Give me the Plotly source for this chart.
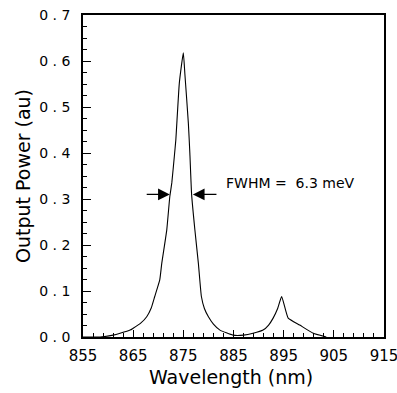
import plotly.graph_objects as go

# Data
wavelength_nm = [855.0, 858.4, 861.0, 862.4, 864.4, 865.0, 866.5, 867.7, 868.6, 869.3, 870.3, 870.7,
                 871.7, 872.3, 872.7, 873.2, 873.5, 874.2, 875.0, 875.3, 876.0, 876.3, 876.65,
                 877.3, 878.0, 878.6, 879.2, 880.0, 881.0, 882.3, 884.9, 887.0, 888.9, 890.9,
                 892.0, 892.9, 893.8, 894.6, 895.9, 898.2, 900.9, 903.5]
output_power = [0.0, 0.0, 0.004, 0.008, 0.015, 0.019, 0.03, 0.044, 0.063, 0.088, 0.124, 0.16,
                0.233, 0.305, 0.335, 0.392, 0.428, 0.552, 0.618, 0.573, 0.465, 0.40, 0.31,
                0.233, 0.16, 0.088, 0.062, 0.044, 0.028, 0.015, 0.004, 0.004, 0.008, 0.015,
                0.026, 0.041, 0.062, 0.088, 0.041, 0.026, 0.008, 0.0]

x_ticks = [855, 865, 875, 885, 895, 905, 915]
y_ticks = [0.0, 0.1, 0.2, 0.3, 0.4, 0.5, 0.6, 0.7]
y_tick_text = ["0 . 0", "0 . 1", "0 . 2", "0 . 3", "0 . 4", "0 . 5", "0 . 6", "0 . 7"]

fwhm_left = [867.4, 872.3]   # tail, tip
fwhm_right = [881.9, 876.9]  # tail, tip
fwhm_level = 0.31
fwhm_label = "FWHM =  6.3 meV"
x_title = "Wavelength (nm)"
y_title = "Output Power (au)"

FONT = "DejaVu Sans"

fig = go.Figure()
fig.add_trace(go.Scatter(x=wavelength_nm, y=output_power, mode="lines",
                         line=dict(color="black", width=1.1, shape="spline", smoothing=0.4),
                         showlegend=False, hoverinfo="skip"))

for tail, tip in (fwhm_left, fwhm_right):
    fig.add_annotation(x=tip, y=fwhm_level, ax=tail, ay=fwhm_level,
                       xref="x", yref="y", axref="x", ayref="y",
                       showarrow=True, arrowhead=2, arrowsize=1.8, arrowwidth=1.3,
                       arrowcolor="black", text="")

fig.add_annotation(x=fwhm_right[0] + 1.2, y=0.335, xref="x", yref="y",
                   text=fwhm_label, showarrow=False, xanchor="left", yanchor="middle",
                   font=dict(family=FONT, size=14, color="black"))

fig.add_annotation(x=0.5, y=0, xref="paper", yref="paper", text=x_title,
                   showarrow=False, xanchor="center", yanchor="top", yshift=-28, xshift=-3,
                   borderpad=0,
                   font=dict(family=FONT, size=19, color="black"))

fig.update_layout(
    width=397, height=393,
    margin=dict(l=83, r=13, t=15, b=56),
    paper_bgcolor="white", plot_bgcolor="white",
    font=dict(family=FONT, color="black"),
)

fig.update_xaxes(
    range=[855, 915], tickvals=x_ticks, ticktext=[str(v) for v in x_ticks],
    ticks="inside", ticklen=7, tickwidth=1.2, tickcolor="black",
    minor=dict(dtick=2, tick0=855, ticks="inside", ticklen=4, tickwidth=1, tickcolor="black"),
    showline=True, linecolor="black", linewidth=1.5, mirror=True,
    showgrid=False, zeroline=False, automargin=False,
    tickfont=dict(family=FONT, size=15, color="black"),
    ticklabelstandoff=4, ticklabeloverflow="allow",
)
fig.update_yaxes(
    range=[0, 0.7], tickvals=y_ticks, ticktext=y_tick_text,
    ticks="inside", ticklen=8, tickwidth=1.2, tickcolor="black",
    minor=dict(dtick=0.025, tick0=0, ticks="inside", ticklen=4, tickwidth=1, tickcolor="black"),
    showline=True, linecolor="black", linewidth=1.5, mirror=True,
    showgrid=False, zeroline=False, automargin=False,
    tickfont=dict(family=FONT, size=14, color="black"),
    ticklabelstandoff=8, ticklabeloverflow="allow",
    title=dict(text=y_title, font=dict(family=FONT, size=19, color="black"), standoff=4),
)

fig.write_html("out.html")
